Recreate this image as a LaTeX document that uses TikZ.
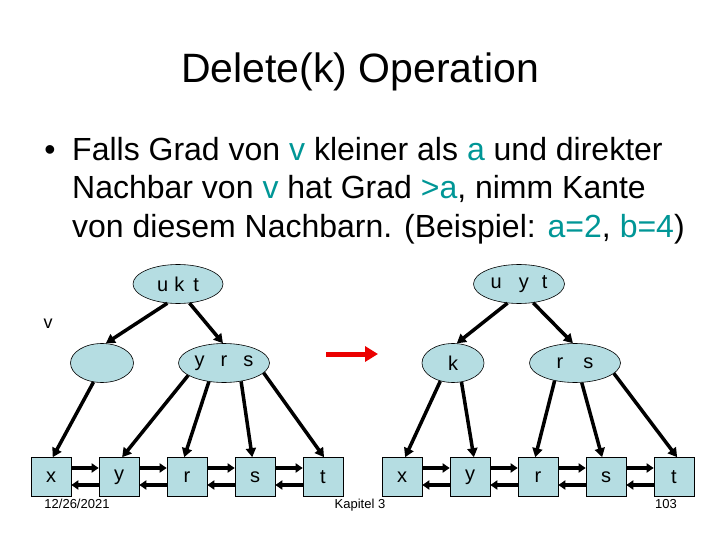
\documentclass[tikz,border=0pt]{standalone}
\usepackage{fontspec}
\setmainfont{Liberation Sans}
\usetikzlibrary{arrows.meta,shapes.geometric}
\definecolor{nodefill}{RGB}{181,221,226}
\definecolor{tealtext}{RGB}{0,150,150}
\definecolor{redarrow}{RGB}{235,0,0}
\tikzset{
  treenode/.style={ellipse,draw=black,line width=0.6pt,fill=nodefill,minimum width=#1,minimum height=39pt,inner sep=0pt,font=\fontsize{20}{22}\selectfont},
  leafbox/.style={rectangle,draw=black,line width=0.6pt,fill=nodefill,minimum width=40pt,minimum height=39pt,inner sep=0pt,font=\fontsize{20}{22}\selectfont},
  ptr/.style={line width=3.5pt,-{Triangle[length=9pt,width=10pt]}},
  lnk/.style={line width=3.5pt,-{Triangle[length=7pt,width=9pt]}},
  bigarrow/.style={line width=5pt,draw=redarrow,-{Triangle[length=13pt,width=15pt]}},
  bodytext/.style={anchor=base west,inner sep=0pt,font=\fontsize{32}{38}\selectfont},
  foot/.style={anchor=base,inner sep=0pt,font=\fontsize{13}{15}\selectfont}
}
\newcommand{\tl}[1]{\textcolor{tealtext}{#1}}
\begin{document}
\begin{tikzpicture}[x=1pt,y=-1pt]
\useasboundingbox (0,0) rectangle (720,540);
% title
\node[anchor=base,inner sep=0pt,font=\fontsize{41}{48}\selectfont] (title) at (360,83) {Delete(k) Operation};
% bullet
\node[anchor=base,inner sep=0pt,font=\fontsize{32}{38}\selectfont] (bul) at (50,161) {•};
\node[bodytext] (l1) at (72,161) {Falls Grad von \tl{v} kleiner als \tl{a} und direkter};
\node[bodytext] (l2) at (72,199) {Nachbar von \tl{v} hat Grad \tl{>a}, nimm Kante};
\node[bodytext] (l3) at (72,237) {von diesem Nachbarn. (Beispiel: \tl{a=2}, \tl{b=4})};
% left tree
\node[treenode=90pt] (L0) at (178,284) {u\hspace{6pt}k\hspace{9pt}t};
\node[treenode=63pt] (L1) at (102,363) {};
\node[treenode=91pt] (L2) at (224,363) {y\hspace{16pt}r\hspace{16pt}s};
\node[anchor=center,inner sep=0pt,font=\fontsize{18}{20}\selectfont] (v) at (48,324) {v};
% right tree
\node[treenode=91pt] (R0) at (519,284) {u\hspace{17pt}y\hspace{13pt}t};
\node[treenode=62pt] (R1) at (453,363) {k};
\node[treenode=91pt] (R2) at (575,363) {r\hspace{20pt}s};
% leaves
\foreach \n/\x/\t in {lx/51/x,ly/119/y,lr/187/r,ls/255/s,lt/323/t,rx/402/x,ry/470/y,rr/538/r,rs/606/s,rt/674/t}
  \node[leafbox] (\n) at (\x,477) {\t};
% tree pointers
\draw[ptr] (L0.241) -- (L1.79);
\draw[ptr] (L0.301) -- (L2.93);
\draw[ptr] (R0.239) -- (R1.79);
\draw[ptr] (R0.307) -- (R2.96);
\draw[ptr] (L1.246) -- (lx.85);
\draw[ptr] (L2.199) -- (ly.81);
\draw[ptr] (L2.231) -- (lr.98);
\draw[ptr] (L2.313) -- (ls.98);
\draw[ptr] (L2.346) -- (lt.87);
\draw[ptr] (R1.235) -- (rx.81);
\draw[ptr] (R1.294) -- (ry.79);
\draw[ptr] (R2.221) -- (rr.98);
\draw[ptr] (R2.289) -- (rs.101);
\draw[ptr] (R2.345) -- (rt.81);
% leaf links
\foreach \a/\b in {lx/ly,ly/lr,lr/ls,ls/lt,rx/ry,ry/rr,rr/rs,rs/rt}{
  \draw[lnk] ([yshift=9pt]\a.east) -- ([yshift=9pt]\b.west);
  \draw[lnk] ([yshift=-8pt]\b.west) -- ([yshift=-8pt]\a.east);
}
% red arrow
\coordinate (ra) at (326,354);
\coordinate (rb) at (378,354);
\draw[bigarrow] (ra) -- (rb);
% footer
\node[foot] (date) at (77,508) {12/26/2021};
\node[foot] (kap) at (360,508) {Kapitel 3};
\node[foot] (num) at (666,508) {103};
\end{tikzpicture}
\end{document}
